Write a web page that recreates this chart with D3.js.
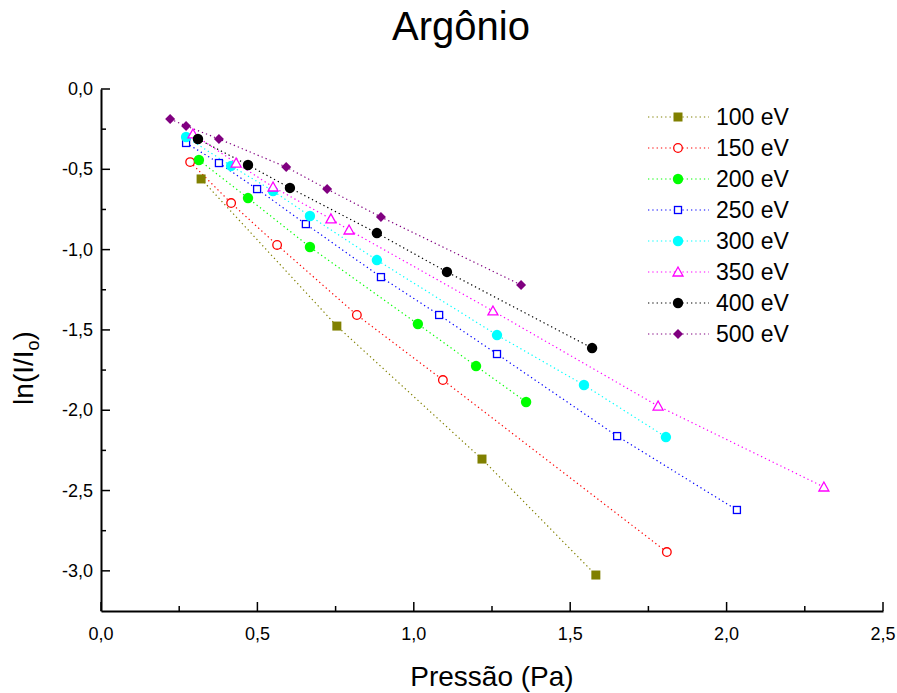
<!DOCTYPE html>
<html><head><meta charset="utf-8">
<script src="https://cdn.jsdelivr.net/npm/d3@7"></script>
<style>body{margin:0;background:#fff;} text{font-family:Arial,"Liberation Sans",Arimo,Helvetica,sans-serif;}</style>
</head><body>
<svg id="c" width="897" height="693"></svg>
<script>
const seriesNames = ["100 eV","150 eV","200 eV","250 eV","300 eV","350 eV","400 eV","500 eV"];
const x100 = [0.320,0.754,1.218,1.582];
const y100 = [-0.560,-1.476,-2.304,-3.026];
const x150 = [0.285,0.416,0.563,0.818,1.093,1.809];
const y150 = [-0.455,-0.710,-0.971,-1.407,-1.812,-2.883];
const x200 = [0.313,0.470,0.668,1.013,1.199,1.359];
const y200 = [-0.442,-0.679,-0.984,-1.463,-1.725,-1.949];
const x250 = [0.272,0.377,0.499,0.655,0.895,1.081,1.266,1.650,2.033];
const y250 = [-0.336,-0.461,-0.623,-0.841,-1.171,-1.407,-1.650,-2.161,-2.621];
const x300 = [0.272,0.416,0.550,0.668,0.882,1.266,1.544,1.806];
const y300 = [-0.299,-0.479,-0.635,-0.791,-1.065,-1.532,-1.843,-2.167];
const x350 = [0.294,0.432,0.550,0.735,0.793,1.253,1.781,2.311];
const y350 = [-0.280,-0.461,-0.610,-0.809,-0.878,-1.382,-1.974,-2.478];
const x400 = [0.310,0.470,0.604,0.882,1.106,1.570];
const y400 = [-0.311,-0.473,-0.616,-0.897,-1.139,-1.613];
const x500 = [0.221,0.272,0.377,0.592,0.723,0.895,1.343];
const y500 = [-0.187,-0.230,-0.311,-0.486,-0.623,-0.797,-1.220];
const xTicks = [0,0.5,1.0,1.5,2.0,2.5];
const yTicks = [0,-0.5,-1.0,-1.5,-2.0,-2.5,-3.0];

const colors = ["#808000","#ff0000","#00ff00","#0000ff","#00ffff","#ff00ff","#000000","#800080"];
const shapes = ["squareF","circleO","circleF","squareO","circleF","triO","circleF","diamondF"];
const xs = [x100,x150,x200,x250,x300,x350,x400,x500];
const ys = [y100,y150,y200,y250,y300,y350,y400,y500];

const svg = d3.select("#c");
const L=101, R=883, T=89, B=611;
const x = d3.scaleLinear().domain([0,2.5]).range([L,R]);
const y = d3.scaleLinear().domain([-3.25,0]).range([B,T]);
const fmt = d => d3.format(".1f")(d).replace(".",",").replace("−","-");

// title
svg.append("text").attr("x",461).attr("y",40).attr("text-anchor","middle")
  .attr("font-size",40).attr("fill","#000").text("Argônio");

// axes
const gx = svg.append("g").attr("transform",`translate(0,${B})`);
gx.call(d3.axisBottom(x).tickValues([]).tickSizeOuter(0));
gx.select(".domain").attr("stroke","#000").attr("stroke-width",2);
d3.range(0,11).map(i=>i*0.25).forEach((v,i)=>{
  gx.append("line").attr("x1",x(v)).attr("x2",x(v)).attr("y1",0).attr("y2",i%2===0?-9:-5)
    .attr("stroke","#000").attr("stroke-width",1.5);
});
xTicks.forEach(v=>{
  gx.append("text").attr("x",x(v)).attr("y",29).attr("text-anchor","middle")
    .attr("font-size",18).attr("fill","#000").text(fmt(v));
});
const gy = svg.append("g").attr("transform",`translate(${L},0)`);
gy.call(d3.axisLeft(y).tickValues([]).tickSizeOuter(0));
gy.select(".domain").attr("stroke","#000").attr("stroke-width",2);
d3.range(0,13).map(i=>-i*0.25).forEach((v,i)=>{
  gy.append("line").attr("x1",0).attr("x2",i%2===0?9:5).attr("y1",y(v)).attr("y2",y(v))
    .attr("stroke","#000").attr("stroke-width",1.5);
});
yTicks.forEach(v=>{
  gy.append("text").attr("x",-8).attr("y",y(v)+6).attr("text-anchor","end")
    .attr("font-size",18).attr("fill","#000").text(fmt(v));
});

// axis titles
svg.append("text").attr("x",492).attr("y",686).attr("text-anchor","middle")
  .attr("font-size",28).attr("fill","#000").text("Pressão (Pa)");
const yl = svg.append("text").attr("transform","translate(33,368) rotate(-90)")
  .attr("text-anchor","middle").attr("font-size",28).attr("fill","#000");
yl.append("tspan").text("ln(I/I");
yl.append("tspan").attr("font-size",18).attr("dy",6).text("o");
yl.append("tspan").attr("dy",-6).text(")");

function marker(g, shape, color, cx, cy){
  if(shape==="squareF") g.append("rect").attr("x",cx-4.5).attr("y",cy-4.5).attr("width",9).attr("height",9).attr("fill",color);
  else if(shape==="squareO") g.append("rect").attr("x",cx-3.5).attr("y",cy-3.5).attr("width",7).attr("height",7).attr("fill","#fff").attr("stroke",color).attr("stroke-width",1.3);
  else if(shape==="circleF") g.append("circle").attr("cx",cx).attr("cy",cy).attr("r",5.2).attr("fill",color);
  else if(shape==="circleO") g.append("circle").attr("cx",cx).attr("cy",cy).attr("r",4.3).attr("fill","#fff").attr("stroke",color).attr("stroke-width",1.3);
  else if(shape==="triO") g.append("path").attr("d",`M${cx},${cy-5}L${cx+5},${cy+4}L${cx-5},${cy+4}Z`).attr("fill","#fff").attr("stroke",color).attr("stroke-width",1.3);
  else if(shape==="diamondF") g.append("path").attr("d",`M${cx},${cy-5}L${cx+5},${cy}L${cx},${cy+5}L${cx-5},${cy}Z`).attr("fill",color);
}

const line = d3.line().x(d=>x(d[0])).y(d=>y(d[1]));
const plot = svg.append("g");
xs.forEach((xa,i)=>{
  const pts = xa.map((v,j)=>[v,ys[i][j]]);
  plot.append("path").attr("d",line(pts)).attr("fill","none").attr("stroke",colors[i])
    .attr("stroke-width",1.2).attr("stroke-dasharray","1.3,3");
});
xs.forEach((xa,i)=>{
  const g = plot.append("g");
  xa.forEach((v,j)=>marker(g,shapes[i],colors[i],x(v),y(ys[i][j])));
});

// legend
const lg = svg.append("g");
seriesNames.forEach((n,i)=>{
  const yy = 117 + i*31;
  lg.append("line").attr("x1",648).attr("x2",709).attr("y1",yy).attr("y2",yy)
    .attr("stroke",colors[i]).attr("stroke-width",1.2).attr("stroke-dasharray","1.3,3");
  marker(lg,shapes[i],colors[i],678,yy);
  lg.append("text").attr("x",716).attr("y",yy+8).attr("font-size",23).attr("fill","#000").text(n);
});
</script>
</body></html>
